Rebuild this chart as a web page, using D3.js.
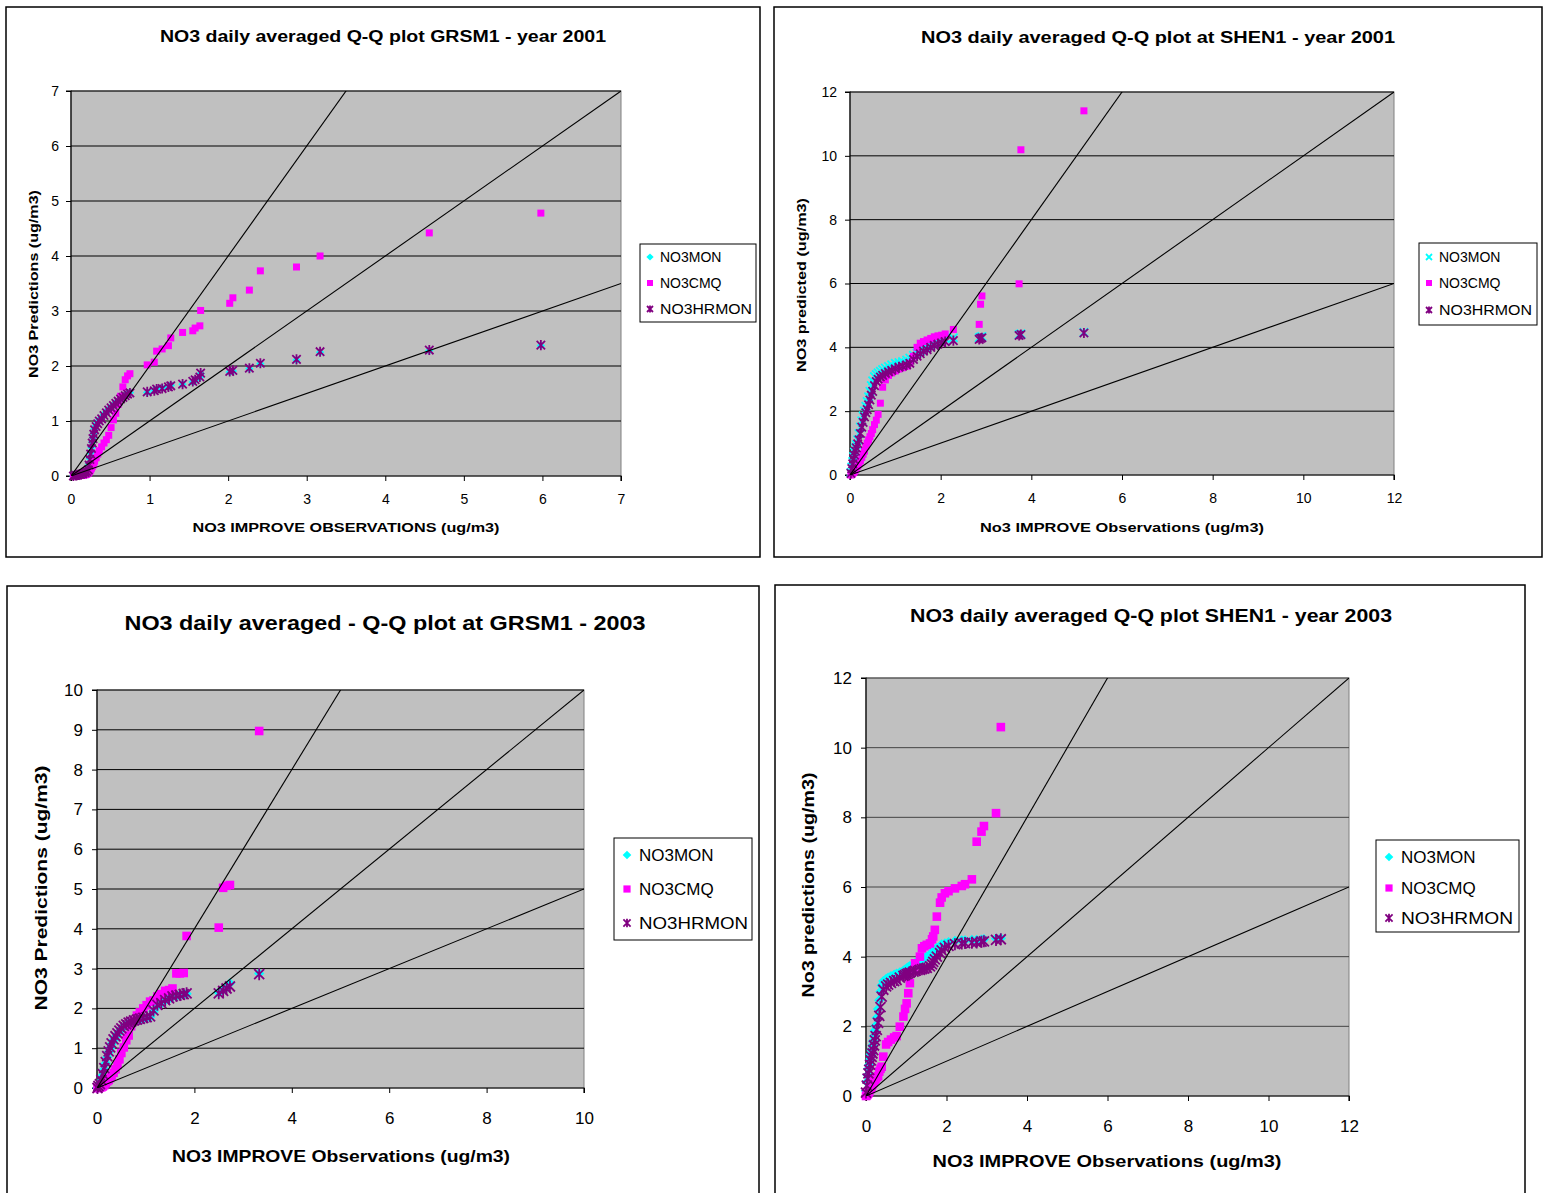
<!DOCTYPE html>
<html>
<head>
<meta charset="utf-8">
<script src="https://cdn.jsdelivr.net/npm/d3@7"></script>
<style>
  body { margin: 0; background: #fff; }
  text { font-family: "Liberation Sans", Arial, sans-serif; fill: #000; }
</style>
</head>
<body>
<script>
const seriesNames = ["NO3MON", "NO3CMQ", "NO3HRMON"];

// GRSM1 2001
const obsGrsm01 = [0.03,0.06,0.09,0.12,0.15,0.18,0.20,0.22,0.23,0.24,0.25,0.26,0.27,0.28,0.29,0.30,0.32,0.34,0.36,0.39,0.42,0.45,0.48,0.51,0.54,0.57,0.60,0.63,0.66,0.69,0.72,0.75,0.97,1.06,1.09,1.16,1.24,1.27,1.42,1.55,1.58,1.64,1.65,2.02,2.06,2.27,2.41,2.87,3.17,4.56,5.98];
const monGrsm01 = [0.0,0.01,0.02,0.03,0.05,0.07,0.09,0.13,0.22,0.32,0.42,0.52,0.62,0.70,0.78,0.86,0.92,0.97,1.02,1.06,1.12,1.17,1.21,1.25,1.29,1.33,1.37,1.41,1.44,1.47,1.50,1.52,1.52,1.56,1.58,1.60,1.62,1.65,1.67,1.71,1.74,1.79,1.86,1.89,1.91,1.95,2.04,2.11,2.25,2.28,2.37];
const cmqGrsm01 = [0.0,0.0,0.0,0.01,0.01,0.02,0.03,0.05,0.07,0.09,0.11,0.14,0.17,0.20,0.24,0.27,0.33,0.40,0.46,0.53,0.60,0.66,0.74,0.88,1.02,1.14,1.30,1.45,1.62,1.75,1.82,1.86,2.02,2.07,2.27,2.31,2.37,2.51,2.61,2.64,2.69,2.73,3.01,3.14,3.24,3.38,3.73,3.80,4.00,4.42,4.78];
const hrmonGrsm01 = [0.0,0.01,0.02,0.03,0.04,0.06,0.08,0.11,0.20,0.30,0.40,0.50,0.60,0.68,0.76,0.84,0.90,0.95,1.00,1.04,1.10,1.15,1.20,1.24,1.28,1.32,1.36,1.40,1.43,1.46,1.49,1.51,1.53,1.55,1.58,1.59,1.62,1.64,1.67,1.72,1.75,1.80,1.87,1.90,1.92,1.96,2.05,2.12,2.26,2.29,2.38];

// SHEN1 2001
const obsShen01 = [0.02,0.04,0.06,0.08,0.10,0.12,0.14,0.17,0.20,0.23,0.26,0.29,0.32,0.35,0.38,0.41,0.44,0.47,0.50,0.54,0.58,0.62,0.67,0.72,0.78,0.85,0.92,1.00,1.08,1.16,1.25,1.32,1.40,1.48,1.55,1.62,1.70,1.78,1.86,1.94,2.02,2.10,2.28,2.85,2.88,2.91,3.73,3.77,5.16];
const monShen01 = [0.08,0.25,0.42,0.58,0.72,0.85,0.95,1.10,1.30,1.50,1.70,1.85,2.00,2.15,2.30,2.45,2.62,2.80,2.95,3.08,3.15,3.20,3.25,3.30,3.35,3.40,3.45,3.50,3.52,3.55,3.60,3.66,3.75,3.82,3.88,3.94,4.00,4.06,4.12,4.17,4.22,4.28,4.30,4.30,4.32,4.34,4.40,4.42,4.47];
const cmqShen01 = [0.0,0.02,0.05,0.08,0.12,0.16,0.20,0.28,0.35,0.45,0.55,0.65,0.75,0.90,1.00,1.10,1.20,1.30,1.42,1.58,1.72,1.90,2.25,2.75,2.98,3.12,3.20,3.26,3.32,3.36,3.41,3.50,3.72,4.00,4.13,4.18,4.23,4.28,4.33,4.36,4.38,4.42,4.56,4.72,5.35,5.61,5.99,10.19,11.41];
const hrmonShen01 = [0.05,0.20,0.35,0.50,0.62,0.75,0.85,0.98,1.10,1.30,1.50,1.65,1.82,1.95,2.05,2.20,2.35,2.50,2.62,2.80,2.93,3.00,3.07,3.12,3.18,3.23,3.28,3.33,3.38,3.41,3.45,3.50,3.62,3.72,3.80,3.88,3.93,4.00,4.06,4.10,4.14,4.18,4.21,4.25,4.28,4.30,4.37,4.40,4.45];

// GRSM1 2003
const obsGrsm03 = [0.01,0.03,0.06,0.09,0.12,0.15,0.18,0.21,0.24,0.27,0.30,0.34,0.38,0.42,0.46,0.50,0.55,0.60,0.65,0.70,0.76,0.82,0.88,0.95,1.02,1.09,1.16,1.24,1.32,1.40,1.48,1.55,1.63,1.70,1.78,1.84,2.50,2.59,2.66,2.73,3.33];
const monGrsm03 = [0.0,0.04,0.09,0.18,0.32,0.47,0.62,0.77,0.90,1.00,1.10,1.20,1.28,1.35,1.42,1.48,1.54,1.58,1.62,1.65,1.68,1.70,1.72,1.74,1.76,1.78,1.92,2.06,2.12,2.20,2.24,2.29,2.31,2.33,2.35,2.37,2.40,2.47,2.53,2.63,2.88];
const cmqGrsm03 = [0.0,0.0,0.01,0.02,0.04,0.07,0.12,0.17,0.20,0.25,0.30,0.38,0.47,0.58,0.72,0.88,1.02,1.20,1.32,1.55,1.68,1.82,1.90,2.00,2.08,2.17,2.20,2.30,2.36,2.44,2.46,2.50,2.88,2.88,2.89,3.82,4.03,5.03,5.08,5.10,8.97];
const hrmonGrsm03 = [0.0,0.05,0.10,0.20,0.35,0.50,0.65,0.80,0.92,1.02,1.12,1.22,1.30,1.37,1.44,1.50,1.56,1.60,1.64,1.67,1.70,1.72,1.74,1.76,1.78,1.80,1.95,2.09,2.13,2.21,2.25,2.30,2.32,2.34,2.36,2.38,2.38,2.44,2.50,2.55,2.86];

// SHEN1 2003
const obsShen03 = [0.0,0.02,0.04,0.06,0.08,0.10,0.12,0.14,0.16,0.18,0.20,0.22,0.24,0.27,0.30,0.33,0.36,0.39,0.43,0.50,0.55,0.62,0.70,0.76,0.84,0.93,0.97,1.01,1.05,1.09,1.18,1.22,1.34,1.39,1.45,1.51,1.59,1.64,1.67,1.71,1.76,1.84,1.88,1.96,2.05,2.21,2.38,2.46,2.63,2.75,2.87,2.93,3.23,3.35];
const monShen03 = [0.15,0.40,0.60,0.78,0.90,1.05,1.20,1.32,1.45,1.58,1.72,1.88,2.02,2.25,2.50,2.75,3.00,3.18,3.30,3.36,3.40,3.44,3.48,3.51,3.55,3.60,3.63,3.66,3.70,3.73,3.78,3.82,3.87,3.90,3.95,4.00,4.06,4.12,4.16,4.20,4.25,4.30,4.35,4.38,4.42,4.45,4.47,4.47,4.48,4.48,4.49,4.50,4.52,4.53];
const cmqShen03 = [0.0,0.02,0.05,0.08,0.12,0.18,0.22,0.27,0.33,0.38,0.42,0.46,0.50,0.54,0.57,0.70,0.78,0.84,1.13,1.48,1.55,1.62,1.68,1.72,1.99,2.28,2.50,2.66,2.95,3.24,3.60,3.81,4.00,4.24,4.30,4.34,4.38,4.50,4.58,4.77,5.15,5.55,5.70,5.82,5.88,5.96,6.03,6.08,6.22,7.30,7.59,7.75,8.12,10.59];
const hrmonShen03 = [0.10,0.30,0.50,0.65,0.75,0.90,1.02,1.12,1.22,1.32,1.45,1.60,1.72,1.90,2.10,2.30,2.55,2.85,3.05,3.15,3.20,3.25,3.30,3.33,3.40,3.45,3.47,3.50,3.52,3.54,3.57,3.59,3.62,3.64,3.66,3.68,3.72,3.78,3.85,3.92,4.00,4.10,4.18,4.25,4.31,4.36,4.38,4.39,4.40,4.41,4.43,4.44,4.48,4.50];

const refSlopes = [2, 1, 0.5];

const panels = [
  {
    title: "NO3 daily averaged Q-Q plot GRSM1 - year 2001", titleSize: 16, titleLen: 446, titleX: 383, titleY: 36,
    xLabel: "NO3 IMPROVE OBSERVATIONS (ug/m3)", xLabelLen: 307, xLabelX: 346, xLabelY: 527,
    yLabel: "NO3 Predictions (ug/m3)", yLabelLen: 188, yLabelX: 33, yLabelY: 284,
    labelSize: 13, tickSize: 14,
    frame: [6, 7, 754, 550], plot: [71, 91, 621, 476],
    xMax: 7, yMax: 7, xStep: 1, yStep: 1, tickGapY: 12, tickGapX: 23,
    legend: [640, 244, 116, 78], legendRows: [257, 283, 309], legendSize: 14, legendLen: 92,
    monShape: "diamond", mk: 3.5, star: 4.2,
    obs: obsGrsm01, mon: monGrsm01, cmq: cmqGrsm01, hrmon: hrmonGrsm01, grid: "#000"
  },
  {
    title: "NO3 daily averaged Q-Q plot at SHEN1 - year 2001", titleSize: 16, titleLen: 474, titleX: 1158, titleY: 37,
    xLabel: "No3 IMPROVE Observations (ug/m3)", xLabelLen: 284, xLabelX: 1122, xLabelY: 527,
    yLabel: "NO3 predicted (ug/m3)", yLabelLen: 174, yLabelX: 801, yLabelY: 285,
    labelSize: 13, tickSize: 14,
    frame: [774, 7, 768, 550], plot: [850, 92, 1394, 475],
    xMax: 12, yMax: 12, xStep: 2, yStep: 2, tickGapY: 13, tickGapX: 23,
    legend: [1419, 243, 118, 82], legendRows: [257, 283, 310], legendSize: 14, legendLen: 93,
    monShape: "cross", mk: 3.5, star: 4.2,
    obs: obsShen01, mon: monShen01, cmq: cmqShen01, hrmon: hrmonShen01, grid: "#000"
  },
  {
    title: "NO3 daily averaged - Q-Q plot at GRSM1 - 2003", titleSize: 21, titleLen: 521, titleX: 385, titleY: 623,
    xLabel: "NO3 IMPROVE Observations (ug/m3)", xLabelLen: 338, xLabelX: 341, xLabelY: 1156,
    yLabel: "NO3 Predictions (ug/m3)", yLabelLen: 245, yLabelX: 41, yLabelY: 888,
    labelSize: 17, tickSize: 17,
    frame: [7, 586, 752, 620], plot: [97, 690, 584, 1088],
    xMax: 10, yMax: 10, xStep: 2, yStep: 1, tickGapY: 14, tickGapX: 30,
    legend: [614, 838, 138, 102], legendRows: [855, 889, 923], legendSize: 17, legendLen: 109,
    monShape: "diamond", mk: 4.3, star: 5,
    obs: obsGrsm03, mon: monGrsm03, cmq: cmqGrsm03, hrmon: hrmonGrsm03, grid: "#000"
  },
  {
    title: "NO3 daily averaged Q-Q plot SHEN1 - year 2003", titleSize: 18, titleLen: 482, titleX: 1151, titleY: 616,
    xLabel: "NO3 IMPROVE Observations (ug/m3)", xLabelLen: 349, xLabelX: 1107, xLabelY: 1161,
    yLabel: "No3 predictions (ug/m3)", yLabelLen: 225, yLabelX: 808, yLabelY: 885,
    labelSize: 17, tickSize: 17,
    frame: [775, 585, 750, 620], plot: [866, 678, 1349, 1096],
    xMax: 12, yMax: 12, xStep: 2, yStep: 2, tickGapY: 14, tickGapX: 30,
    legend: [1376, 840, 143, 92], legendRows: [857, 888, 918], legendSize: 17, legendLen: 112,
    monShape: "diamond", mk: 4.3, star: 5,
    obs: obsShen03, mon: monShen03, cmq: cmqShen03, hrmon: hrmonShen03, grid: "#444"
  }
];

const colors = { NO3MON: "#00ffff", NO3CMQ: "#ff00ff", NO3HRMON: "#800080" };

function markerPath(shape, s) {
  if (shape === "square") return `M${-s},${-s}h${2 * s}v${2 * s}h${-2 * s}Z`;
  if (shape === "diamond") return `M0,${-s * 1.2}L${s * 1.2},0L0,${s * 1.2}L${-s * 1.2},0Z`;
  if (shape === "cross") return `M${-s},${-s}L${s},${s}M${-s},${s}L${s},${-s}`;
  return `M${-s},${-s}L${s},${s}M${-s},${s}L${s},${-s}M0,${-s * 1.2}L0,${s * 1.2}`;
}

function drawMarker(g, shape, color, s, x, y) {
  const filled = shape === "square" || shape === "diamond";
  g.append("path")
    .attr("transform", `translate(${x},${y})`)
    .attr("d", markerPath(shape, s))
    .attr("fill", filled ? color : "none")
    .attr("stroke", color)
    .attr("stroke-width", filled ? 0 : 1.8);
}

const svg = d3.select("body").append("svg")
  .attr("width", 1548).attr("height", 1193)
  .style("display", "block");

svg.append("rect").attr("width", 1548).attr("height", 1193).attr("fill", "#fff");

panels.forEach((p, i) => {
  const g = svg.append("g");
  const [fx, fy, fw, fh] = p.frame;
  const [px0, py0, px1, py1] = p.plot;

  g.append("rect")
    .attr("x", fx).attr("y", fy).attr("width", fw).attr("height", fh)
    .attr("fill", "#fff").attr("stroke", "#000").attr("stroke-width", 1.5);

  const x = d3.scaleLinear().domain([0, p.xMax]).range([px0, px1]);
  const y = d3.scaleLinear().domain([0, p.yMax]).range([py1, py0]);

  g.append("rect")
    .attr("x", px0).attr("y", py0).attr("width", px1 - px0).attr("height", py1 - py0)
    .attr("fill", "#c0c0c0").attr("stroke", "#808080").attr("stroke-width", 1);

  const yTicks = d3.range(0, p.yMax + 0.001, p.yStep);
  const xTicks = d3.range(0, p.xMax + 0.001, p.xStep);

  // horizontal gridlines
  g.append("g").selectAll("line").data(yTicks.filter(t => t > 0)).join("line")
    .attr("x1", px0).attr("x2", px1)
    .attr("y1", d => y(d)).attr("y2", d => y(d))
    .attr("stroke", p.grid).attr("stroke-width", 1);

  // axes
  const yAxis = g.append("g")
    .attr("transform", `translate(${px0},0)`)
    .call(d3.axisLeft(y).tickValues(yTicks).tickFormat(d3.format("d")).tickSize(5).tickPadding(p.tickGapY - 5));
  const xAxis = g.append("g")
    .attr("transform", `translate(0,${py1})`)
    .call(d3.axisBottom(x).tickValues(xTicks).tickFormat(d3.format("d")).tickSize(5).tickPadding(p.tickGapX - 5 - p.tickSize * 0.35));
  [yAxis, xAxis].forEach(a => {
    a.select(".domain").attr("stroke", "#000").attr("stroke-width", 1.2);
    a.selectAll(".tick line").attr("stroke", "#000");
    a.selectAll("text")
      .style("font-family", '"Liberation Sans", Arial, sans-serif')
      .style("font-size", p.tickSize + "px").attr("fill", "#000");
  });
  yAxis.select(".domain").attr("d", `M-5,${py1}H0V${py0}H-5`);
  xAxis.select(".domain").attr("d", `M${px0},5V0H${px1}V5`);

  // data markers
  const clipId = `clip${i}`;
  g.append("clipPath").attr("id", clipId)
    .append("rect").attr("x", px0).attr("y", py0).attr("width", px1 - px0).attr("height", py1 - py0);

  const mg = g.append("g");
  p.obs.forEach((o, k) => drawMarker(mg, p.monShape, colors.NO3MON, p.monShape === "cross" ? p.star : p.mk, x(o), y(p.mon[k])));
  p.obs.forEach((o, k) => drawMarker(mg, "square", colors.NO3CMQ, p.mk, x(o), y(p.cmq[k])));
  p.obs.forEach((o, k) => drawMarker(mg, "star", colors.NO3HRMON, p.star, x(o), y(p.hrmon[k])));

  // reference lines 2:1, 1:1, 1:2
  g.append("g").attr("clip-path", `url(#${clipId})`)
    .selectAll("line").data(refSlopes).join("line")
    .attr("x1", x(0)).attr("y1", y(0))
    .attr("x2", d => x(p.xMax)).attr("y2", d => y(d * p.xMax))
    .attr("stroke", "#000").attr("stroke-width", 1.1);

  // titles
  g.append("text")
    .attr("x", p.titleX).attr("y", p.titleY).attr("dy", "0.35em")
    .attr("text-anchor", "middle")
    .attr("textLength", p.titleLen).attr("lengthAdjust", "spacingAndGlyphs")
    .style("font-size", p.titleSize + "px").style("font-weight", "bold")
    .text(p.title);

  g.append("text")
    .attr("x", p.xLabelX).attr("y", p.xLabelY).attr("dy", "0.35em")
    .attr("text-anchor", "middle")
    .attr("textLength", p.xLabelLen).attr("lengthAdjust", "spacingAndGlyphs")
    .style("font-size", p.labelSize + "px").style("font-weight", "bold")
    .text(p.xLabel);

  g.append("text")
    .attr("transform", `translate(${p.yLabelX},${p.yLabelY}) rotate(-90)`)
    .attr("dy", "0.35em")
    .attr("text-anchor", "middle")
    .attr("textLength", p.yLabelLen).attr("lengthAdjust", "spacingAndGlyphs")
    .style("font-size", p.labelSize + "px").style("font-weight", "bold")
    .text(p.yLabel);

  // legend
  const [lx, ly, lw, lh] = p.legend;
  const lg = g.append("g");
  lg.append("rect").attr("x", lx).attr("y", ly).attr("width", lw).attr("height", lh)
    .attr("fill", "#fff").attr("stroke", "#000").attr("stroke-width", 1);
  const shapes = [p.monShape, "square", "star"];
  const textX = lx + (p.legendSize > 15 ? 25 : 20);
  seriesNames.forEach((name, k) => {
    const ry = p.legendRows[k];
    const s = p.legendSize > 15 ? 3.6 : 3;
    drawMarker(lg, shapes[k], colors[name], s, lx + (p.legendSize > 15 ? 13 : 10), ry);
    lg.append("text")
      .attr("x", textX).attr("y", ry).attr("dy", "0.35em")
      .attr("textLength", k === 2 ? p.legendLen : null)
      .attr("lengthAdjust", "spacingAndGlyphs")
      .style("font-size", p.legendSize + "px")
      .text(name);
  });
});
</script>
</body>
</html>
